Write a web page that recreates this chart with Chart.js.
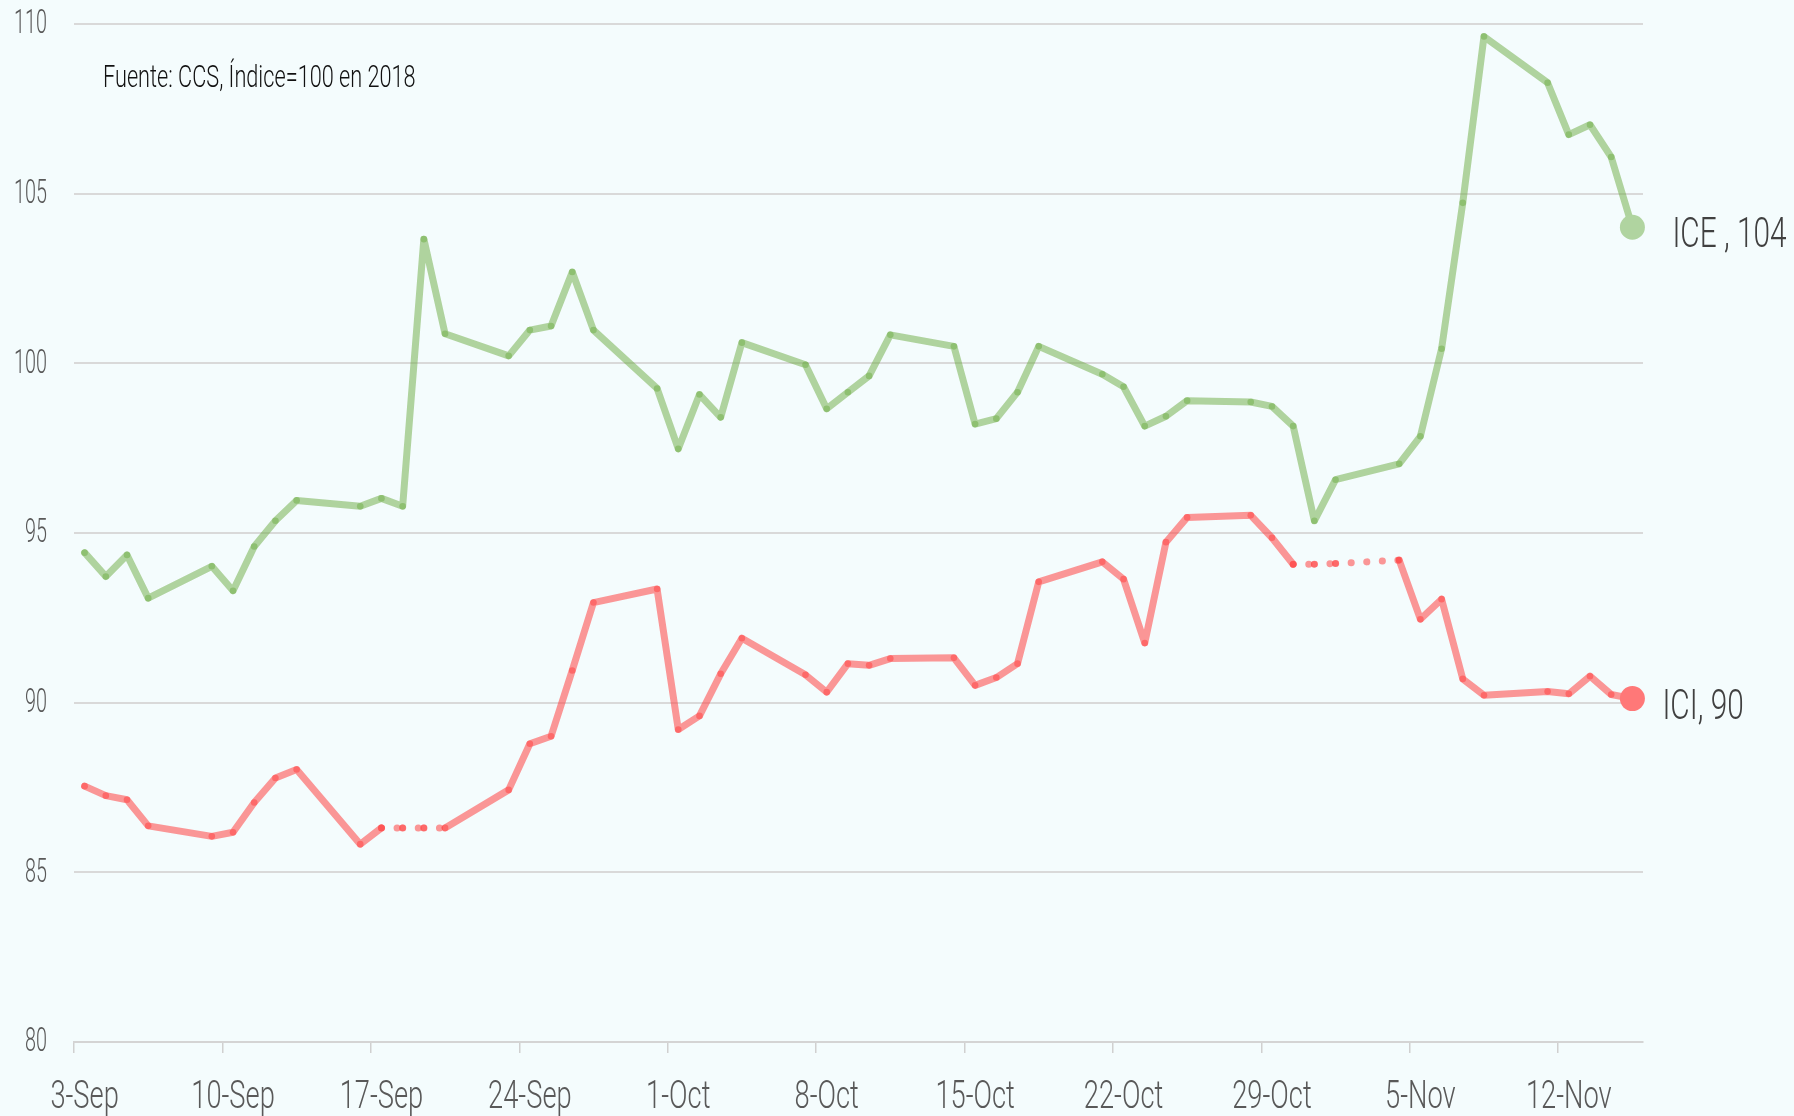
<!DOCTYPE html>
<html>
<head>
<meta charset="utf-8">
<script src="https://cdn.jsdelivr.net/npm/chart.js@4.4.1/dist/chart.umd.min.js"></script>
<style>
  html, body { margin: 0; padding: 0; background: #f4fcfd; }
  #wrap { width: 1794px; height: 1116px; }
</style>
</head>
<body>
<div id="wrap"><canvas id="chart" width="1794" height="1116"></canvas></div>
<script>
// Días (3-Sep a 15-Nov), fines de semana sin dato
const days = [
  '3-Sep', '4-Sep', '5-Sep', '6-Sep', '7-Sep', '8-Sep', '9-Sep', '10-Sep', '11-Sep', '12-Sep',
  '13-Sep', '14-Sep', '15-Sep', '16-Sep', '17-Sep', '18-Sep', '19-Sep', '20-Sep', '21-Sep', '22-Sep',
  '23-Sep', '24-Sep', '25-Sep', '26-Sep', '27-Sep', '28-Sep', '29-Sep', '30-Sep', '1-Oct', '2-Oct',
  '3-Oct', '4-Oct', '5-Oct', '6-Oct', '7-Oct', '8-Oct', '9-Oct', '10-Oct', '11-Oct', '12-Oct',
  '13-Oct', '14-Oct', '15-Oct', '16-Oct', '17-Oct', '18-Oct', '19-Oct', '20-Oct', '21-Oct', '22-Oct',
  '23-Oct', '24-Oct', '25-Oct', '26-Oct', '27-Oct', '28-Oct', '29-Oct', '30-Oct', '31-Oct', '1-Nov',
  '2-Nov', '3-Nov', '4-Nov', '5-Nov', '6-Nov', '7-Nov', '8-Nov', '9-Nov', '10-Nov', '11-Nov',
  '12-Nov', '13-Nov', '14-Nov', '15-Nov'
];

// Índice de Confianza Empresarial
const ice = [
  94.42, 93.72, 94.35, 93.08, null, null, 94.02, 93.30, 94.60, 95.36,
  95.96, null, null, 95.79, 96.02, 95.79, 103.66, 100.87, null, null,
  100.22, 100.98, 101.10, 102.69, 100.98, null, null, 99.26, 97.48, 99.08,
  98.41, 100.61, null, null, 99.96, 98.66, 99.15, 99.63, 100.84, null,
  null, 100.50, 98.21, 98.37, 99.15, 100.50, null, null, 99.68, 99.31,
  98.15, 98.44, 98.90, null, null, 98.86, 98.73, 98.15, 95.36, 96.57,
  null, null, 97.04, 97.85, 100.43, 104.73, 109.63, null, null, 108.27,
  106.74, 107.03, 106.08, 104.01
];

// Índice de Confianza Industrial
const ici = [
  87.54, 87.26, 87.14, 86.37, null, null, 86.06, 86.18, 87.06, 87.78,
  88.03, null, null, 85.83, 86.31, 86.31, 86.31, 86.31, null, null,
  87.43, 88.79, 89.01, 90.95, 92.95, null, null, 93.35, 89.21, 89.61,
  90.85, 91.90, null, null, 90.82, 90.31, 91.15, 91.10, 91.30, null,
  null, 91.32, 90.51, 90.74, 91.15, 93.56, null, null, 94.15, 93.64,
  91.76, 94.73, 95.46, null, null, 95.52, 94.86, 94.08, 94.08, 94.10,
  null, null, 94.20, 92.46, 93.05, 90.70, 90.22, null, null, 90.33,
  90.26, 90.78, 90.24, 90.12
];

// Tramos sin dato del ICI (línea punteada)
const iciDotted = [['17-Sep', '20-Sep'], ['30-Oct', '4-Nov']];

const seriesNames = ['ICE ', 'ICI'];
const yTicks = [80, 85, 90, 95, 100, 105, 110];
const tickEvery = 7;
const sourceNote = 'Fuente: CCS, Índice=100 en 2018';

const green = 'rgba(112, 173, 71, 0.52)';
const greenEnd = '#b0d4a0';
const red = 'rgba(255, 70, 70, 0.56)';
const redEnd = '#ff7878';
const gridColor = '#d9d9d9';
const textFont = 'Roboto';

const dottedIdx = iciDotted.map(r => [days.indexOf(r[0]), days.indexOf(r[1])]);
function isDotted(ctx) {
  return dottedIdx.some(r => ctx.p0DataIndex >= r[0] && ctx.p1DataIndex <= r[1]);
}

function lastIndex(arr) {
  for (let i = arr.length - 1; i >= 0; i--) if (arr[i] !== null) return i;
  return -1;
}

// texto condensado (escala horizontal)
function drawText(ctx, text, x, y, opts) {
  ctx.save();
  ctx.font = (opts.weight || 300) + ' ' + opts.size + 'px ' + textFont;
  ctx.fillStyle = opts.color;
  ctx.textAlign = opts.align || 'left';
  ctx.textBaseline = opts.baseline || 'alphabetic';
  ctx.translate(x, y);
  ctx.scale(opts.sx || 0.7, 1);
  ctx.fillText(text, 0, 0);
  ctx.restore();
}

const textPlugin = {
  id: 'textPlugin',
  afterDraw(chart) {
    const ctx = chart.ctx;
    const xs = chart.scales.x;
    const ys = chart.scales.y;
    const area = chart.chartArea;

    // etiquetas eje Y
    yTicks.forEach(v => {
      drawText(ctx, String(v), area.left - 27, ys.getPixelForValue(v) + 1, {
        size: 33, color: '#595959', align: 'right', baseline: 'middle', sx: 0.6
      });
    });

    // etiquetas eje X
    days.forEach((d, i) => {
      if (i % tickEvery !== 0) return;
      drawText(ctx, d, xs.getPixelForValue(i), area.bottom + 66, {
        size: 39, color: '#595959', align: 'center', sx: 0.7
      });
    });

    // nota de fuente
    drawText(ctx, sourceNote, area.left + 29, area.top + 63, {
      size: 31, color: '#111111', sx: 0.7
    });

    // etiquetas al final de cada serie
    const offsets = [40, 30];
    chart.data.datasets.forEach((ds, k) => {
      const meta = chart.getDatasetMeta(k);
      const li = lastIndex(ds.data);
      const pt = meta.data[li];
      const label = seriesNames[k] + ', ' + Math.round(ds.data[li]);
      drawText(ctx, label, pt.x + offsets[k], pt.y + 20, {
        size: 42, color: '#404040', sx: 0.71
      });
    });
  }
};

function pointRadius(arr) {
  const li = lastIndex(arr);
  return ctx => ctx.dataIndex === li ? 12.5 : 3.3;
}
function pointColor(arr, base, end) {
  const li = lastIndex(arr);
  return ctx => ctx.dataIndex === li ? end : base;
}

new Chart(document.getElementById('chart'), {
  type: 'line',
  data: {
    labels: days,
    datasets: [
      {
        label: 'ICE',
        data: ice,
        borderColor: green,
        borderWidth: 7,
        borderCapStyle: 'round',
        borderJoinStyle: 'round',
        pointRadius: pointRadius(ice),
        pointBackgroundColor: pointColor(ice, green, greenEnd),
        pointBorderWidth: 0,
        spanGaps: true,
        tension: 0
      },
      {
        label: 'ICI',
        data: ici,
        borderColor: red,
        borderWidth: 7,
        borderCapStyle: 'round',
        borderJoinStyle: 'round',
        pointRadius: pointRadius(ici),
        pointBackgroundColor: pointColor(ici, red, redEnd),
        pointBorderWidth: 0,
        spanGaps: true,
        tension: 0,
        segment: {
          // cada tramo punteado empieza su propio patrón (offset alterno)
          borderDash: ctx => isDotted(ctx) ? [0.1, 15.5] : undefined,
          borderDashOffset: ctx => isDotted(ctx) ? (ctx.p0DataIndex % 2) * 0.001 : undefined
        }
      }
    ]
  },
  options: {
    responsive: false,
    animation: false,
    devicePixelRatio: 1,
    layout: { padding: { left: 74, right: 151, top: 24, bottom: 63 } },
    plugins: {
      legend: { display: false },
      tooltip: { enabled: false }
    },
    scales: {
      x: {
        type: 'category',
        offset: true,
        grid: {
          offset: true,
          drawOnChartArea: false,
          drawTicks: true,
          tickLength: 11,
          lineWidth: 1.5,
          color: ctx => ctx.index % tickEvery === 0 ? '#d0d0d0' : 'rgba(0,0,0,0)'
        },
        border: { display: true, color: '#d4d4d4', width: 2 },
        ticks: { display: false, autoSkip: false }
      },
      y: {
        min: 80,
        max: 110,
        grid: { color: gridColor, lineWidth: 2, drawTicks: false },
        border: { display: false },
        ticks: { display: false, stepSize: 5 }
      }
    }
  },
  plugins: [textPlugin]
});
</script>
</body>
</html>
